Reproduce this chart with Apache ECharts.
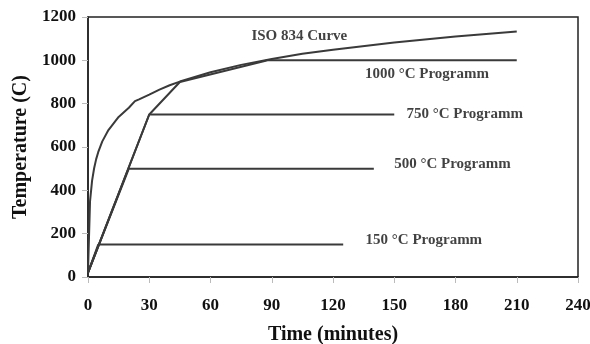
<!DOCTYPE html>
<html><head><meta charset="utf-8">
<script src="https://cdn.jsdelivr.net/npm/echarts@6/dist/echarts.min.js"></script>
<style>html,body{margin:0;padding:0;background:#fff}#c{width:590px;height:344px}</style>
</head><body><div id="c"></div>
<script>
// ISO 834 curve (time in minutes, temperature in °C)
const isoTime = [0, 1, 2, 3, 4, 5, 7, 10, 15, 20, 23, 25, 30, 35, 40, 45, 60, 75, 90, 105, 120, 150, 180, 210];
const isoTemp = [25, 350, 445, 502, 544, 576, 626, 678, 739, 781, 812, 820, 842, 865, 885, 902, 945, 979, 1006, 1030, 1049, 1082, 1110, 1133];

// Heating programmes
const prog150Time = [0, 5, 125];
const prog150Temp = [20, 150, 150];
const prog500Time = [0, 20, 140];
const prog500Temp = [20, 500, 500];
const prog750Time = [0, 30, 150];
const prog750Temp = [20, 750, 750];
const prog1000Time = [0, 30, 45, 88, 210];
const prog1000Temp = [20, 750, 900, 1000, 1000];

// Annotation labels
const labelTexts = ['ISO 834 Curve', '1000 °C Programm', '750 °C Programm', '500 °C Programm', '150 °C Programm'];
const labelTime = [103.5, 166, 184.5, 178.5, 164.5];
const labelTemp = [1110, 937, 752, 519, 171];

const xTicks = [0, 30, 60, 90, 120, 150, 180, 210, 240];
const yTicks = [0, 200, 400, 600, 800, 1000, 1200];

const zip = (a, b) => a.map((v, i) => [v, b[i]]);
const lineColor = '#3a3a3a';
const font = '"Liberation Serif", "Times New Roman", serif';

const lineSeries = (name, t, v) => ({
  name, type: 'line', data: zip(t, v), showSymbol: false, symbol: 'none',
  lineStyle: { color: lineColor, width: 2 }, smooth: false, z: 3
});

const chart = echarts.init(document.getElementById('c'), null, { renderer: 'canvas' });
chart.setOption({
  animation: false,
  backgroundColor: '#fff',
  grid: { left: 88, right: 12, top: 17, bottom: 67, show: true, borderColor: '#222', borderWidth: 1.5, containLabel: false, outerBoundsMode: 'none' },
  xAxis: {
    type: 'value', min: xTicks[0], max: xTicks[xTicks.length - 1], interval: 30,
    name: 'Time (minutes)', nameLocation: 'middle', nameGap: 48,
    nameTextStyle: { fontFamily: font, fontWeight: 'bold', fontSize: 20, color: '#111' },
    axisLine: { show: true, onZero: false, lineStyle: { color: '#222', width: 1.5 } },
    axisTick: { show: true, length: 6, lineStyle: { color: '#bbb' } },
    axisLabel: { fontFamily: font, fontWeight: 'bold', fontSize: 17, color: '#111', margin: 20 },
    splitLine: { show: false }
  },
  yAxis: {
    type: 'value', min: yTicks[0], max: yTicks[yTicks.length - 1], interval: 200,
    name: 'Temperature (C)', nameLocation: 'middle', nameGap: 49,
    nameTextStyle: { fontFamily: font, fontWeight: 'bold', fontSize: 20, color: '#111' },
    axisLine: { show: true, lineStyle: { color: '#222', width: 1.5 } },
    axisTick: { show: true, length: 6, lineStyle: { color: '#bbb' } },
    axisLabel: { fontFamily: font, fontWeight: 'bold', fontSize: 17, color: '#111', margin: 12, formatter: v => String(v) },
    splitLine: { show: false }
  },
  series: [
    lineSeries('ISO 834 Curve', isoTime, isoTemp),
    lineSeries('150 °C Programm', prog150Time, prog150Temp),
    lineSeries('500 °C Programm', prog500Time, prog500Temp),
    lineSeries('750 °C Programm', prog750Time, prog750Temp),
    lineSeries('1000 °C Programm', prog1000Time, prog1000Temp),
    {
      name: 'labels', type: 'scatter', symbolSize: 0, silent: true, z: 5,
      data: labelTexts.map((t, i) => ({ value: [labelTime[i], labelTemp[i]], name: t })),
      label: {
        show: true, position: 'inside', formatter: p => p.name,
        fontFamily: font, fontWeight: 'bold', fontSize: 15, color: '#111'
      }
    }
  ]
});
</script></body></html>
